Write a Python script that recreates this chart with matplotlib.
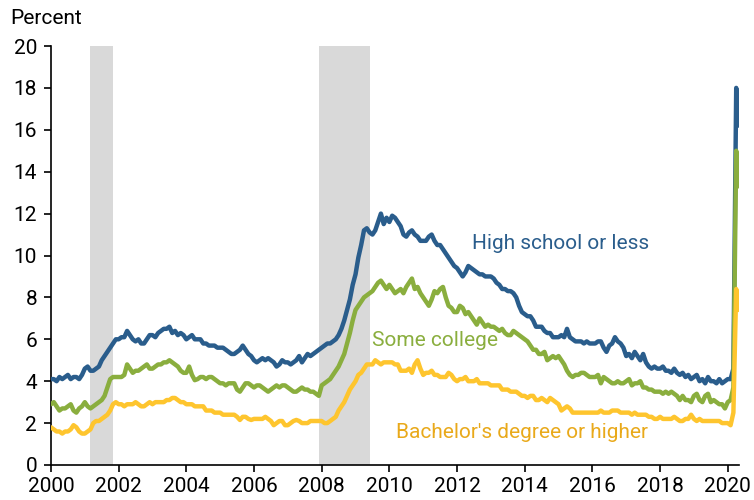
import numpy as np
import matplotlib
matplotlib.use("Agg")
import matplotlib.pyplot as plt

plt.rcParams['font.family'] = ['Roboto', 'DejaVu Sans']

start_year = 2000
high_school_or_less = [
    4.1, 4.1, 4.0, 4.2, 4.1, 4.2, 4.3, 4.1, 4.2, 4.2, 4.1, 4.3,   # 2000
    4.6, 4.7, 4.5, 4.5, 4.6, 4.7, 5.0, 5.2, 5.4, 5.6, 5.8, 6.0,   # 2001
    6.0, 6.1, 6.1, 6.4, 6.2, 6.0, 5.9, 6.0, 5.8, 5.8, 6.0, 6.2,   # 2002
    6.2, 6.1, 6.3, 6.4, 6.5, 6.5, 6.6, 6.3, 6.4, 6.2, 6.3, 6.2,   # 2003
    6.0, 6.1, 6.2, 6.0, 6.0, 6.0, 5.8, 5.8, 5.7, 5.7, 5.7, 5.6,   # 2004
    5.6, 5.6, 5.5, 5.4, 5.3, 5.3, 5.4, 5.5, 5.7, 5.5, 5.3, 5.2,   # 2005
    5.0, 4.9, 5.0, 5.1, 5.0, 5.1, 5.0, 4.9, 4.7, 4.8, 5.0, 4.9,   # 2006
    4.9, 4.8, 4.9, 5.0, 5.2, 4.9, 5.1, 5.3, 5.2, 5.3, 5.4, 5.5,   # 2007
    5.6, 5.7, 5.8, 5.8, 5.9, 6.0, 6.2, 6.5, 6.9, 7.4, 7.9, 8.6,   # 2008
    9.1, 9.9, 10.5, 11.2, 11.3, 11.1, 11.0, 11.2, 11.6, 12.0, 11.5, 11.8,  # 2009
    11.6, 11.9, 11.8, 11.6, 11.4, 11.0, 10.9, 11.1, 11.2, 11.0, 10.9, 10.7,  # 2010
    10.7, 10.7, 10.9, 11.0, 10.7, 10.5, 10.5, 10.3, 10.1, 9.9, 9.7, 9.5,  # 2011
    9.4, 9.2, 9.0, 9.2, 9.5, 9.4, 9.3, 9.2, 9.1, 9.1, 9.0, 9.0,   # 2012
    9.0, 8.9, 8.7, 8.6, 8.4, 8.4, 8.3, 8.3, 8.2, 8.0, 7.6, 7.3,   # 2013
    7.2, 7.1, 7.1, 6.9, 6.6, 6.6, 6.6, 6.4, 6.3, 6.3, 6.1, 6.1,   # 2014
    6.1, 6.2, 6.1, 6.5, 6.1, 6.0, 5.9, 5.9, 5.9, 5.8, 5.9, 5.8,   # 2015
    5.8, 5.8, 5.9, 5.9, 5.6, 5.4, 5.7, 5.8, 6.1, 5.9, 5.8, 5.6,   # 2016
    5.2, 5.3, 5.1, 5.4, 5.2, 5.0, 5.3, 4.9, 4.7, 4.6, 4.7, 4.6,   # 2017
    4.6, 4.7, 4.5, 4.5, 4.4, 4.6, 4.4, 4.3, 4.4, 4.2, 4.3, 4.1,   # 2018
    4.2, 4.3, 4.0, 4.1, 3.9, 4.2, 4.0, 4.0, 3.9, 4.1, 3.9, 4.0,   # 2019
    4.1, 4.1, 4.6, 18.0, 16.2,                                    # 2020
]
some_college = [
    2.9, 3.0, 2.8, 2.6, 2.7, 2.7, 2.8, 2.9, 2.6, 2.5, 2.7, 2.8,   # 2000
    3.0, 2.8, 2.7, 2.8, 2.9, 3.0, 3.1, 3.3, 3.7, 4.1, 4.2, 4.2,   # 2001
    4.2, 4.2, 4.3, 4.8, 4.6, 4.4, 4.5, 4.5, 4.6, 4.7, 4.8, 4.6,   # 2002
    4.6, 4.7, 4.8, 4.8, 4.9, 4.9, 5.0, 4.9, 4.8, 4.7, 4.5, 4.4,   # 2003
    4.4, 4.7, 4.3, 4.05, 4.1, 4.2, 4.2, 4.1, 4.2, 4.2, 4.1, 4.0,  # 2004
    3.9, 3.9, 3.8, 3.9, 3.9, 3.9, 3.6, 3.5, 3.7, 3.9, 3.9, 3.8,   # 2005
    3.7, 3.8, 3.8, 3.7, 3.6, 3.5, 3.6, 3.7, 3.8, 3.7, 3.8, 3.8,   # 2006
    3.7, 3.6, 3.5, 3.5, 3.6, 3.7, 3.6, 3.6, 3.5, 3.5, 3.4, 3.3,   # 2007
    3.8, 3.9, 4.0, 4.1, 4.3, 4.5, 4.7, 5.0, 5.3, 5.8, 6.3, 6.9,   # 2008
    7.4, 7.6, 7.8, 8.0, 8.1, 8.2, 8.3, 8.5, 8.7, 8.8, 8.6, 8.4,   # 2009
    8.6, 8.4, 8.2, 8.3, 8.4, 8.2, 8.5, 8.7, 8.9, 8.4, 8.5, 8.2,   # 2010
    8.0, 7.8, 7.6, 7.9, 8.3, 8.2, 8.4, 8.5, 8.0, 7.6, 7.5, 7.3,   # 2011
    7.3, 7.6, 7.5, 7.2, 7.3, 7.1, 6.9, 6.7, 7.0, 6.8, 6.6, 6.7,   # 2012
    6.6, 6.6, 6.5, 6.4, 6.5, 6.3, 6.2, 6.2, 6.4, 6.3, 6.2, 6.1,   # 2013
    6.0, 5.9, 5.7, 5.5, 5.5, 5.3, 5.3, 5.4, 5.0, 5.1, 5.2, 5.1,   # 2014
    5.2, 5.0, 4.8, 4.5, 4.3, 4.2, 4.3, 4.3, 4.4, 4.4, 4.3, 4.2,   # 2015
    4.2, 4.2, 4.3, 3.9, 4.2, 4.1, 4.0, 3.9, 3.9, 4.0, 3.9, 3.9,   # 2016
    4.0, 4.1, 3.8, 3.9, 3.9, 4.0, 3.7, 3.7, 3.6, 3.6, 3.5, 3.5,   # 2017
    3.5, 3.4, 3.5, 3.4, 3.5, 3.4, 3.3, 3.1, 3.3, 3.1, 3.1, 3.0,   # 2018
    3.3, 3.4, 3.1, 3.0, 3.3, 3.4, 3.0, 3.1, 3.0, 2.9, 2.9, 2.7,   # 2019
    3.0, 3.1, 3.7, 15.0, 13.3,                                    # 2020
]
bachelors_or_higher = [
    1.8, 1.7, 1.6, 1.6, 1.5, 1.6, 1.6, 1.7, 1.9, 1.8, 1.6, 1.5,   # 2000
    1.5, 1.6, 1.7, 2.0, 2.1, 2.1, 2.2, 2.3, 2.4, 2.6, 2.9, 3.0,   # 2001
    2.9, 2.9, 2.8, 2.9, 2.9, 2.9, 3.0, 2.9, 2.8, 2.8, 2.9, 3.0,   # 2002
    2.9, 3.0, 3.0, 3.0, 3.0, 3.1, 3.1, 3.2, 3.2, 3.1, 3.0, 3.0,   # 2003
    2.9, 2.9, 2.9, 2.8, 2.8, 2.8, 2.8, 2.6, 2.6, 2.6, 2.5, 2.5,   # 2004
    2.5, 2.4, 2.4, 2.4, 2.4, 2.4, 2.3, 2.15, 2.3, 2.3, 2.2, 2.15, # 2005
    2.2, 2.2, 2.2, 2.2, 2.3, 2.2, 2.1, 1.9, 2.0, 2.1, 2.1, 1.9,   # 2006
    1.9, 2.0, 2.1, 2.15, 2.1, 2.0, 2.0, 2.0, 2.1, 2.1, 2.1, 2.1,  # 2007
    2.1, 2.0, 2.0, 2.1, 2.2, 2.3, 2.6, 2.8, 3.0, 3.3, 3.6, 3.8,   # 2008
    4.0, 4.3, 4.4, 4.6, 4.8, 4.8, 4.8, 5.0, 4.9, 4.8, 4.9, 4.9,   # 2009
    4.9, 4.9, 4.8, 4.8, 4.5, 4.5, 4.5, 4.6, 4.4, 4.8, 5.0, 4.6,   # 2010
    4.3, 4.4, 4.4, 4.5, 4.3, 4.3, 4.2, 4.2, 4.2, 4.4, 4.3, 4.1,   # 2011
    4.0, 4.1, 4.1, 4.2, 4.0, 4.0, 4.0, 4.1, 3.9, 3.9, 3.9, 3.9,   # 2012
    3.8, 3.8, 3.8, 3.8, 3.6, 3.6, 3.6, 3.5, 3.5, 3.5, 3.4, 3.3,   # 2013
    3.3, 3.2, 3.3, 3.3, 3.1, 3.1, 3.2, 3.1, 3.0, 3.2, 3.1, 3.0,   # 2014
    2.9, 2.6, 2.7, 2.8, 2.7, 2.5, 2.5, 2.5, 2.5, 2.5, 2.5, 2.5,   # 2015
    2.5, 2.5, 2.5, 2.6, 2.5, 2.5, 2.5, 2.6, 2.6, 2.6, 2.5, 2.5,   # 2016
    2.5, 2.5, 2.4, 2.5, 2.4, 2.4, 2.4, 2.4, 2.3, 2.3, 2.2, 2.2,   # 2017
    2.3, 2.2, 2.2, 2.2, 2.2, 2.3, 2.2, 2.1, 2.1, 2.2, 2.2, 2.4,   # 2018
    2.2, 2.1, 2.2, 2.1, 2.1, 2.1, 2.1, 2.1, 2.1, 2.1, 2.0, 2.0,   # 2019
    2.0, 1.9, 2.5, 8.4, 7.4,                                      # 2020
]
recessions = [(2001 + 2/12, 2001 + 10/12), (2007 + 11/12, 2009 + 5/12)]
series_labels = ["High school or less", "Some college", "Bachelor's degree or higher"]
x_ticks = list(range(2000, 2021, 2))
y_ticks = list(range(0, 21, 2))

blue = "#2a5d8c"
green = "#8aae3e"
yellow = "#fec52e"
yellow_text = "#e9a91a"

n = len(high_school_or_less)
t = start_year + np.arange(n) / 12.0

fig = plt.figure(figsize=(7.54, 5.0), dpi=100)
ax = fig.add_axes([0.0676, 0.07, 0.9124, 0.838])

for a, b in recessions:
    ax.axvspan(a, b, ymin=0, ymax=1, color="#d9d9d9", lw=0, zorder=0)

kw = dict(lw=3.2, solid_joinstyle="round", solid_capstyle="round")
ax.plot(t, high_school_or_less, color=blue, zorder=3, **kw)
ax.plot(t, some_college, color=green, zorder=3, **kw)
ax.plot(t, bachelors_or_higher, color=yellow, zorder=4, **kw)

ax.set_xlim(2000, 2020.33)
ax.set_ylim(0, 20)
ax.set_xticks(x_ticks)
ax.set_yticks(y_ticks)
ax.tick_params(axis="both", labelsize=15, length=5, width=1.2, color="black", direction="out")
ax.tick_params(axis="y", pad=5)
ax.tick_params(axis="x", pad=4)
for s in ["top", "right"]:
    ax.spines[s].set_visible(False)
for s in ["left", "bottom"]:
    ax.spines[s].set_linewidth(1.2)

fig.text(10 / 754, 1 - 19 / 500, "Percent", fontsize=15, ha="left", va="center")

ax.text(2012.45, 10.55, series_labels[0], color=blue, fontsize=15, ha="left", va="center")
ax.text(2009.48, 5.92, series_labels[1], color=green, fontsize=15, ha="left", va="center")
ax.text(2010.2, 1.53, series_labels[2], color=yellow_text, fontsize=15, ha="left", va="center")

fig.savefig("out.png", dpi=100)
